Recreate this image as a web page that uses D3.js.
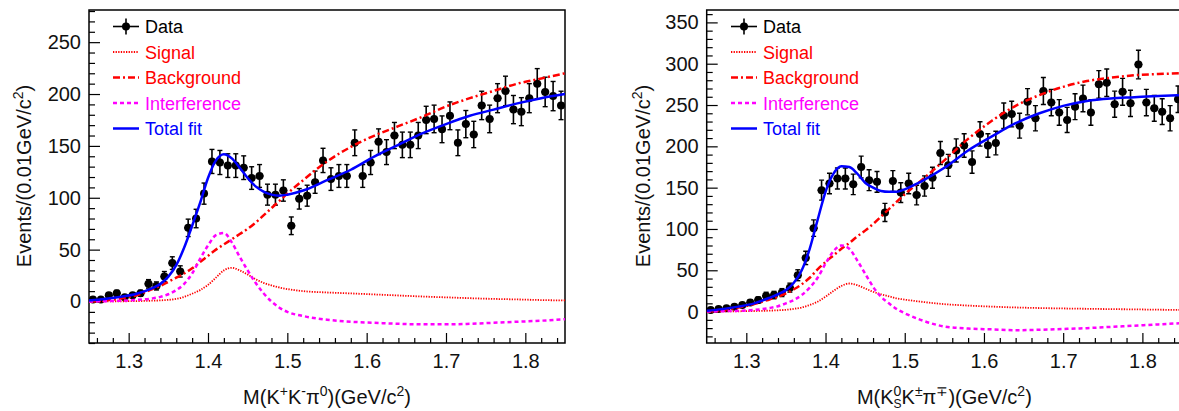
<!DOCTYPE html>
<html><head><meta charset="utf-8">
<script src="https://cdn.jsdelivr.net/npm/d3@7"></script>
<style>body{margin:0;background:#fff}svg{display:block;font-family:"Liberation Sans",Arial,Helvetica,sans-serif}</style>
</head><body><svg id="c" width="1179" height="411"></svg>
<script>
// ---------- data ----------
const binCenters = [1.255,1.265,1.275,1.285,1.295,1.305,1.315,1.325,1.335,1.345,1.355,1.365,1.375,1.385,1.395,1.405,1.415,1.425,1.435,1.445,1.455,1.465,1.475,1.485,1.495,1.505,1.515,1.525,1.535,1.545,1.555,1.565,1.575,1.585,1.595,1.605,1.615,1.625,1.635,1.645,1.655,1.665,1.675,1.685,1.695,1.705,1.715,1.725,1.735,1.745,1.755,1.765,1.775,1.785,1.795,1.805,1.815,1.825,1.835,1.845];
const dataLeft = [2,2,6,8,4,6,8,17,15,24,37,29,71,80,104,135,134,131,131,129,119,121,103,103,107,73,99,102,115,136,118,121,121,153,121,134,154,144,160,151,151,160,175,176,166,179,153,171,161,189,176,196,203,185,183,196,210,202,198,189];
const errLeft = [1.4,1.4,2.4,2.8,2,2.4,2.8,4.1,3.9,4.9,6.1,5.4,8.4,8.9,10.2,11.6,11.6,11.4,11.4,11.4,10.9,11,10.1,10.1,10.3,8.5,9.9,10.1,10.7,11.7,10.9,11,11,12.4,11,11.6,12.4,12,12.6,12.3,12.3,12.6,13.2,13.3,12.9,13.4,12.4,13.1,12.7,13.7,13.3,14,14.2,13.6,13.5,14,14.5,14.2,14.1,13.7];
const dataRight = [2,3,4,6,8,11,14,19,20,23,29,44,65,101,147,155,161,161,154,175,159,157,120,158,144,155,141,152,162,192,177,195,201,181,215,201,204,237,239,225,254,234,267,253,241,232,248,258,241,275,277,251,266,252,299,253,246,242,234,257];
const errRight = [1.4,1.7,2,2.4,2.8,3.3,3.7,4.4,4.5,4.8,5.4,6.6,8.1,10,12.1,12.4,12.7,12.7,12.4,13.2,12.6,12.5,11,12.6,12,12.4,11.9,12.3,12.7,13.9,13.3,14,14.2,13.5,14.7,14.2,14.3,15.4,15.5,15,15.9,15.3,16.3,15.9,15.5,15.2,15.7,16.1,15.5,16.6,16.6,15.8,16.3,15.9,17.3,15.9,15.7,15.6,15.3,16];

const curveX = [1.25,1.27,1.29,1.31,1.33,1.34,1.35,1.36,1.37,1.38,1.39,1.40,1.41,1.42,1.43,1.44,1.45,1.46,1.47,1.48,1.49,1.50,1.52,1.55,1.58,1.61,1.64,1.67,1.70,1.73,1.76,1.79,1.82,1.85];
const totalLeft = [1,2.5,4.5,7.5,13,17,24,35,52,73,95,119,136,142,138,129,119,111,106,103,102,103,107,117,127,140,151,162,171,179,185,191,196,200];
const bkgLeft = [0,1,3,6,12,15,19,23,27,32,38,44,50,55,60,65,70,76,83,90,97,104,117,135,149,160,169,178,188,196,203,210,215,220];
const sigLeft = [0,0.1,0.2,0.4,0.8,1.1,1.6,2.5,4.5,7.5,11,16,23,30,32.5,30,26,21.5,18,15.5,13.5,12,10,8.7,7.8,6.8,5.8,4.8,4,3.2,2.5,2,1.4,1];
const intLeft = [0,0.3,0.8,1.5,3,4.5,7,11,17,27,41,54,64,66,57,43,30,18,8,0,-6,-10,-14,-17.5,-19.5,-20.5,-21.5,-22,-22,-21.5,-20.5,-19.5,-18.5,-17];
const totalRight = [1,3,6,10,17,21,26,35,50,76,111,145,167,176,175,167,156,150,146,145,145,148,157,174,195,212,228,240,249,255,258,259.5,261,262];
const bkgRight = [0,2,5,9,15,18,22,27,33,41,51,60,68,76,83,91,98,106,115,124,133,142,158,183,209,231,249,262,272,279,283,286,287.5,288.5];
const sigRight = [0,0.2,0.4,0.7,1.2,1.6,2.2,3.3,5,8,12,18,25,31,34,32,28,24,21,18.5,16,14.5,12,9,7.3,6,5,4.3,3.8,3.4,3,2.7,2.3,2];
const intRight = [0,0.5,1,2,4.5,6.5,10,14,20,29,41,58,73,80,76,62,46,30,18,10,3,-2,-10,-18,-20.5,-21.5,-22.5,-22,-21,-20,-18.5,-17,-15.5,-14];

const xTickValues = [1.3,1.4,1.5,1.6,1.7,1.8];
const yTicksLeft = [0,50,100,150,200,250];
const yTicksRight = [0,50,100,150,200,250,300,350];
const legendLabels = ["Data","Signal","Background","Interference","Total fit"];

// ---------- drawing ----------
const svg = d3.select("#c");
const FONT = 20;

function drawPanel(cfg) {
  const x = d3.scaleLinear().domain([1.25, 1.85]).range([cfg.left, cfg.right]);
  const y = d3.scaleLinear().domain(cfg.yDomain).range([343, 10]);
  const g = svg.append("g");
  const clipId = "clip" + cfg.id;
  svg.append("defs").append("clipPath").attr("id", clipId)
    .append("rect").attr("x", cfg.left).attr("y", 10).attr("width", cfg.right - cfg.left).attr("height", 333);

  // axes
  const yMinor = d3.range(Math.ceil(cfg.yDomain[0] / 10) * 10, cfg.yDomain[1], 10).filter(v => v % 50 !== 0);
  const xMinor = d3.range(1.26, 1.85, 0.02).map(v => +v.toFixed(2)).filter(v => Math.abs(v * 10 - Math.round(v * 10)) > 1e-6);

  const ya = g.append("g").attr("transform", `translate(${cfg.left},0)`)
    .call(d3.axisLeft(y).tickValues(cfg.yTicks).tickSize(-11).tickPadding(8).tickFormat(d3.format("d")));
  const yb = g.append("g").attr("transform", `translate(${cfg.left},0)`)
    .call(d3.axisLeft(y).tickValues(yMinor).tickSize(-6).tickFormat(""));
  const xa = g.append("g").attr("transform", `translate(0,343)`)
    .call(d3.axisBottom(x).tickValues(xTickValues).tickSize(-10).tickPadding(11).tickFormat(d3.format(".1f")));
  const xb = g.append("g").attr("transform", `translate(0,343)`)
    .call(d3.axisBottom(x).tickValues(xMinor).tickSize(-5).tickFormat(""));
  [ya, yb, xa, xb].forEach(a => {
    a.select(".domain").remove();
    a.selectAll("line").attr("stroke", "#000").attr("stroke-width", 1.2);
    a.selectAll("text").attr("font-size", FONT).attr("fill", "#111").attr("font-family", '"Liberation Sans",Arial,sans-serif');
  });

  // frame
  g.append("rect").attr("x", cfg.left).attr("y", 10).attr("width", cfg.right - cfg.left).attr("height", 333)
    .attr("fill", "none").attr("stroke", "#000").attr("stroke-width", 1.5);

  // data points
  const pts = g.append("g").attr("clip-path", `url(#${clipId})`);
  const hw = (x(1.26) - x(1.25)) / 2;
  binCenters.forEach((m, i) => {
    const cx = x(m), v = cfg.data[i], e = cfg.err[i];
    const y1 = y(v + e), y2 = y(v - e);
    pts.append("line").attr("x1", cx).attr("x2", cx).attr("y1", y1).attr("y2", y2).attr("stroke", "#000").attr("stroke-width", 1.6);
    pts.append("line").attr("x1", cx - 2.5).attr("x2", cx + 2.5).attr("y1", y1).attr("y2", y1).attr("stroke", "#000").attr("stroke-width", 1.4);
    pts.append("line").attr("x1", cx - 2.5).attr("x2", cx + 2.5).attr("y1", y2).attr("y2", y2).attr("stroke", "#000").attr("stroke-width", 1.4);
    pts.append("line").attr("x1", cx - hw).attr("x2", cx + hw).attr("y1", y(v)).attr("y2", y(v)).attr("stroke", "#000").attr("stroke-width", 1.6);
    pts.append("circle").attr("cx", cx).attr("cy", y(v)).attr("r", 4).attr("fill", "#000");
  });

  // curves
  const line = d3.line().x((d, i) => x(curveX[i])).y(d => y(d)).curve(d3.curveMonotoneX);
  const cg = g.append("g").attr("clip-path", `url(#${clipId})`).attr("fill", "none");
  const styles = [
    { vals: cfg.sig, color: "#ff0000", w: 1.8, dash: "1.3,1.3" },
    { vals: cfg.bkg, color: "#ff0000", w: 2.5, dash: "7,3,2,3" },
    { vals: cfg.inter, color: "#ff00ff", w: 2.5, dash: "4,3" },
    { vals: cfg.total, color: "#0000ff", w: 2.5, dash: null }
  ];
  styles.forEach(s => {
    cg.append("path").attr("d", line(s.vals)).attr("stroke", s.color).attr("stroke-width", s.w)
      .attr("stroke-dasharray", s.dash);
  });

  // legend
  const lg = g.append("g");
  const legColors = ["#000", "#ff0000", "#ff0000", "#ff00ff", "#0000ff"];
  const legStyles = [null, styles[0], styles[1], styles[2], styles[3]];
  legendLabels.forEach((lab, i) => {
    const by = 33 + i * 25.5;
    const cy = by - 6.5;
    if (i === 0) {
      lg.append("line").attr("x1", cfg.legX).attr("x2", cfg.legX + 26).attr("y1", cy).attr("y2", cy).attr("stroke", "#000").attr("stroke-width", 1.6);
      lg.append("line").attr("x1", cfg.legX + 13).attr("x2", cfg.legX + 13).attr("y1", cy - 8).attr("y2", cy + 8).attr("stroke", "#000").attr("stroke-width", 1.6);
      lg.append("circle").attr("cx", cfg.legX + 13).attr("cy", cy).attr("r", 4).attr("fill", "#000");
    } else {
      const s = legStyles[i];
      lg.append("line").attr("x1", cfg.legX).attr("x2", cfg.legX + 26).attr("y1", cy).attr("y2", cy)
        .attr("stroke", s.color).attr("stroke-width", s.w).attr("stroke-dasharray", s.dash);
    }
    lg.append("text").attr("x", cfg.legX + 32).attr("y", by).attr("font-size", 18).attr("fill", legColors[i]).text(lab);
  });

  // y title
  const yt = svg.append("text").attr("transform", `translate(${cfg.yTitleX},176) rotate(-90)`)
    .attr("text-anchor", "middle").attr("font-size", FONT).attr("fill", "#111");
  yt.append("tspan").text("Events/(0.01GeV/c");
  yt.append("tspan").attr("font-size", 14).attr("dy", -8).text("2");
  yt.append("tspan").attr("dy", 8).text(")");

  // x title
  const xt = svg.append("text").attr("x", (cfg.left + cfg.right) / 2).attr("y", 404)
    .attr("text-anchor", "middle").attr("font-size", FONT).attr("fill", "#111");
  cfg.xTitle(xt);
}

function sup(t, s) { t.append("tspan").attr("font-size", 14).attr("dy", -8).text(s); }

drawPanel({
  id: "L", left: 89, right: 565, yDomain: [-40, 281], yTicks: yTicksLeft,
  data: dataLeft, err: errLeft, total: totalLeft, bkg: bkgLeft, sig: sigLeft, inter: intLeft,
  legX: 113, yTitleX: 31,
  xTitle: t => {
    t.append("tspan").text("M(K");
    sup(t, "+");
    t.append("tspan").attr("dy", 8).text("K");
    sup(t, "-");
    t.append("tspan").attr("dy", 8).text("π");
    sup(t, "0");
    t.append("tspan").attr("dy", 8).text(")(GeV/c");
    sup(t, "2");
    t.append("tspan").attr("dy", 8).text(")");
  }
});

drawPanel({
  id: "R", left: 706.7, right: 1182, yDomain: [-38, 365], yTicks: yTicksRight,
  data: dataRight, err: errRight, total: totalRight, bkg: bkgRight, sig: sigRight, inter: intRight,
  legX: 731, yTitleX: 650,
  xTitle: t => {
    t.append("tspan").text("M(K");
    sup(t, "0");
    t.append("tspan").attr("font-size", 12).attr("dx", -7.8).attr("dy", 12).text("S");
    t.append("tspan").attr("dy", -4).text("K");
    sup(t, "±");
    t.append("tspan").attr("dy", 8).text("π");
    sup(t, "∓");
    t.append("tspan").attr("dy", 8).text(")(GeV/c");
    sup(t, "2");
    t.append("tspan").attr("dy", 8).text(")");
  }
});
</script>
</body></html>
